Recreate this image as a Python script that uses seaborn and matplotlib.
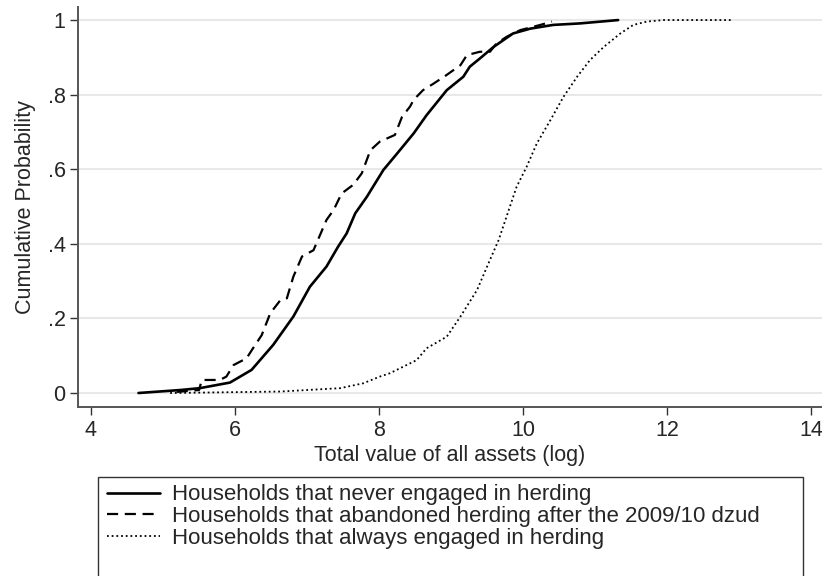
import pandas as pd
import matplotlib
matplotlib.use('Agg')
import matplotlib.pyplot as plt
from matplotlib.patches import Rectangle
import seaborn as sns

# CDF points
never_x = [4.66, 5.24, 5.51, 5.93, 6.23, 6.53, 6.81, 7.04, 7.27, 7.43, 7.55, 7.67, 7.83,
           8.06, 8.25, 8.48, 8.66, 8.94, 9.17, 9.26, 9.40, 9.59, 9.86, 10.10, 10.42, 10.79, 11.32]
never_y = [0.0, 0.008, 0.013, 0.028, 0.062, 0.129, 0.205, 0.285, 0.339, 0.392, 0.428, 0.482, 0.526,
           0.598, 0.642, 0.696, 0.745, 0.812, 0.848, 0.875, 0.897, 0.928, 0.964, 0.977, 0.987, 0.991, 1.0]

aband_x = [5.19, 5.50, 5.54, 5.79, 5.88, 5.98, 6.16, 6.25, 6.37, 6.49, 6.63, 6.72, 6.81, 6.93,
           7.09, 7.27, 7.37, 7.48, 7.64, 7.76, 7.88, 8.01, 8.22, 8.32, 8.43, 8.48, 8.61, 8.76,
           8.94, 9.13, 9.22, 9.40, 9.54, 9.63, 9.77, 9.96, 10.24, 10.40]
aband_y = [0.003, 0.008, 0.035, 0.035, 0.044, 0.075, 0.093, 0.12, 0.155, 0.214, 0.249, 0.254, 0.312, 0.366,
           0.383, 0.464, 0.491, 0.535, 0.558, 0.589, 0.651, 0.674, 0.692, 0.741, 0.768, 0.786, 0.812, 0.830,
           0.853, 0.879, 0.906, 0.915, 0.915, 0.937, 0.955, 0.973, 0.987, 0.996]

always_x = [5.10, 6.63, 7.46, 7.78, 8.01, 8.15, 8.52, 8.66, 8.94, 9.13, 9.36, 9.54, 9.66, 9.77,
            9.91, 10.05, 10.19, 10.38, 10.56, 10.75, 10.93, 11.12, 11.35, 11.53, 11.72, 11.95, 12.92]
always_y = [0.0, 0.004, 0.013, 0.026, 0.044, 0.053, 0.088, 0.12, 0.151, 0.205, 0.276, 0.357, 0.41, 0.473,
            0.553, 0.607, 0.669, 0.732, 0.794, 0.848, 0.893, 0.928, 0.964, 0.987, 0.996, 1.0, 1.0]

labels = ['Households that never engaged in herding',
          'Households that abandoned herding after the 2009/10 dzud',
          'Households that always engaged in herding']
x_ticks = [4, 6, 8, 10, 12, 14]
y_ticks = [0, 0.2, 0.4, 0.6, 0.8, 1.0]
y_ticklabels = ['0', '.2', '.4', '.6', '.8', '1']

df = pd.concat([
    pd.DataFrame({'x': never_x, 'y': never_y, 'group': labels[0]}),
    pd.DataFrame({'x': aband_x, 'y': aband_y, 'group': labels[1]}),
    pd.DataFrame({'x': always_x, 'y': always_y, 'group': labels[2]}),
])

sns.set_style('white')
plt.rcParams['font.family'] = ['Liberation Sans', 'DejaVu Sans']

fig = plt.figure(figsize=(8.22, 5.76), dpi=100)
ax = fig.add_axes([78 / 822, 1 - 407 / 576, 1 - 78 / 822, 400 / 576])

sns.lineplot(data=df, x='x', y='y', hue='group', style='group',
             palette=['black'] * 3, dashes={labels[0]: '', labels[1]: (5, 3), labels[2]: (1, 1.6)},
             sort=False, estimator=None, legend=False, ax=ax)

widths = [1.9, 1.6, 1.3]
for line, w in zip(ax.get_lines(), widths):
    line.set_linewidth(w)

ax.set_xlim(3.82, 14.15)
ax.set_ylim(-0.0375, 1.035)
ax.set_xticks(x_ticks)
ax.set_xticklabels([str(t) for t in x_ticks])
ax.set_yticks(y_ticks)
ax.set_yticklabels(y_ticklabels)
ax.yaxis.grid(True, color='#e8e8e8', linewidth=1.5)
ax.set_axisbelow(True)
for s in ['top', 'right']:
    ax.spines[s].set_visible(False)
for s in ['left', 'bottom']:
    ax.spines[s].set_color('#555555')
    ax.spines[s].set_linewidth(1.4)
ax.tick_params(axis='both', direction='out', length=6, width=1.0, color='#333333',
               labelsize=15.5, pad=3, bottom=True, left=True)
ax.set_xlabel('Total value of all assets (log)', fontsize=15.5, labelpad=3)
ax.set_ylabel('Cumulative Probability', fontsize=15.5, labelpad=8)

# legend box below the axes
fig.patches.append(Rectangle((98 / 822, -0.05), 705 / 822, 0.05 + 99 / 576,
                             transform=fig.transFigure, fill=False, edgecolor='#333333',
                             linewidth=1.0))
leg = fig.legend(ax.get_lines(), labels, loc='upper left',
                 bbox_to_anchor=(94 / 822, 1 - 471 / 576), frameon=False, fontsize=16.0,
                 handlelength=2.35, handletextpad=0.55, labelspacing=0.03, borderpad=0.1)

plt.savefig('out.png', dpi=100)
